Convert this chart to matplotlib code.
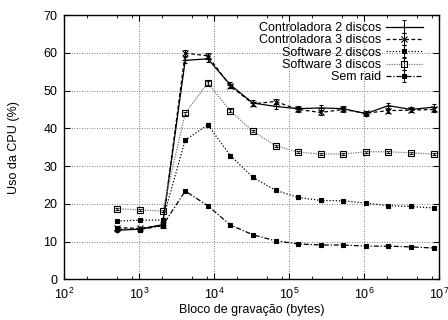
import numpy as np
import matplotlib
matplotlib.use("Agg")
import matplotlib.pyplot as plt
from matplotlib.ticker import LogLocator, NullFormatter

plt.rcParams["font.family"] = ["Liberation Sans", "DejaVu Sans"]
plt.rcParams["font.size"] = 9

# tamanhos de bloco (bytes)
blocos = [512, 1024, 2048, 4096, 8192, 16384, 32768, 65536, 131072,
          262144, 524288, 1048576, 2097152, 4194304, 8388608]

ctrl2 = [13.0, 13.3, 14.5, 58.0, 58.4, 51.5, 46.7, 45.8, 45.2, 45.4, 45.2, 43.9, 46.0, 45.0, 45.6]
ctrl3 = [13.7, 13.5, 14.3, 59.9, 59.2, 51.2, 46.5, 47.1, 45.0, 44.2, 45.0, 44.0, 44.7, 44.8, 45.0]
soft2 = [15.4, 15.7, 15.7, 36.9, 40.9, 32.8, 27.0, 23.6, 21.7, 20.9, 20.8, 20.2, 19.5, 19.3, 18.9]
soft3 = [18.7, 18.4, 18.1, 44.0, 52.0, 44.6, 39.2, 35.4, 33.7, 33.2, 33.2, 33.8, 33.8, 33.5, 33.2]
semraid = [13.3, 13.2, 14.2, 23.4, 19.5, 14.4, 11.8, 10.2, 9.4, 9.1, 9.1, 8.8, 8.8, 8.6, 8.3]

err_ctrl2 = [0.4, 0.4, 0.4, 0.8, 0.8, 0.8, 0.8, 0.8, 0.6, 0.8, 0.6, 0.6, 0.8, 0.6, 0.9]
err_ctrl3 = [0.4, 0.4, 0.4, 0.8, 0.8, 0.6, 0.6, 0.6, 0.6, 0.6, 0.6, 0.6, 0.6, 0.6, 0.6]
err_soft2 = [0.3, 0.3, 0.3, 0.4, 0.4, 0.4, 0.3, 0.3, 0.3, 0.3, 0.3, 0.3, 0.3, 0.3, 0.3]
err_soft3 = [0.3, 0.3, 0.3, 0.4, 0.4, 0.4, 0.3, 0.3, 0.3, 0.3, 0.3, 0.3, 0.3, 0.3, 0.3]
err_semraid = [0.3, 0.3, 0.3, 0.3, 0.3, 0.3, 0.3, 0.3, 0.3, 0.3, 0.3, 0.3, 0.3, 0.3, 0.3]

series = [
    ("Controladora 2 discos", ctrl2, err_ctrl2, "-", "+", "black", "black", 5),
    ("Controladora 3 discos", ctrl3, err_ctrl3, (0, (3, 2)), "x", "black", "black", 4),
    ("Software 2 discos", soft2, err_soft2, (0, (1, 1.5)), "s", "black", "black", 2.5),
    ("Software 3 discos", soft3, err_soft3, (0, (1, 1)), "s", "#777777", "none", 4),
    ("Sem raid", semraid, err_semraid, (0, (4, 1.5, 1, 1.5)), "s", "black", "black", 3.5),
]

fig = plt.figure(figsize=(4.48, 3.2), dpi=100)
ax = fig.add_axes([0.1435, 0.127, 0.837, 0.826])

for nome, y, e, ls, mk, cor, face, ms in series:
    ax.errorbar(blocos, y, yerr=e, label=nome, color=cor, linestyle=ls, linewidth=0.9,
                marker=mk, markersize=ms, markerfacecolor=face, markeredgecolor="black",
                markeredgewidth=0.8, ecolor="black", elinewidth=0.7, capsize=1.5)

ax.set_xscale("log")
ax.set_xlim(1e2, 1e7)
ax.set_ylim(0, 70)
ax.set_yticks(range(0, 71, 10))
ax.xaxis.set_minor_locator(LogLocator(base=10, subs=(2, 5, 8)))
ax.xaxis.set_minor_formatter(NullFormatter())
ax.tick_params(which="both", direction="in", top=True, right=True, labelsize=9)
ax.tick_params(which="major", length=4, width=0.8, pad=5)
ax.tick_params(which="minor", length=2, width=0.6)
ax.grid(True, which="major", linestyle=(0, (1, 2)), color="#555555", linewidth=0.6)
for s in ax.spines.values():
    s.set_linewidth(1.0)

ax.set_xlabel("Bloco de gravação (bytes)", fontsize=9, labelpad=2)
ax.set_ylabel("Uso da CPU (%)", fontsize=9)
ax.yaxis.set_label_coords(-0.118, 0.5)

leg = ax.legend(loc="upper right", bbox_to_anchor=(0.975, 1.0), markerfirst=False,
                frameon=False, fontsize=9, handlelength=3.0, labelspacing=0.03,
                borderaxespad=0.15, handletextpad=0.35)

fig.savefig("out.png", dpi=100)
